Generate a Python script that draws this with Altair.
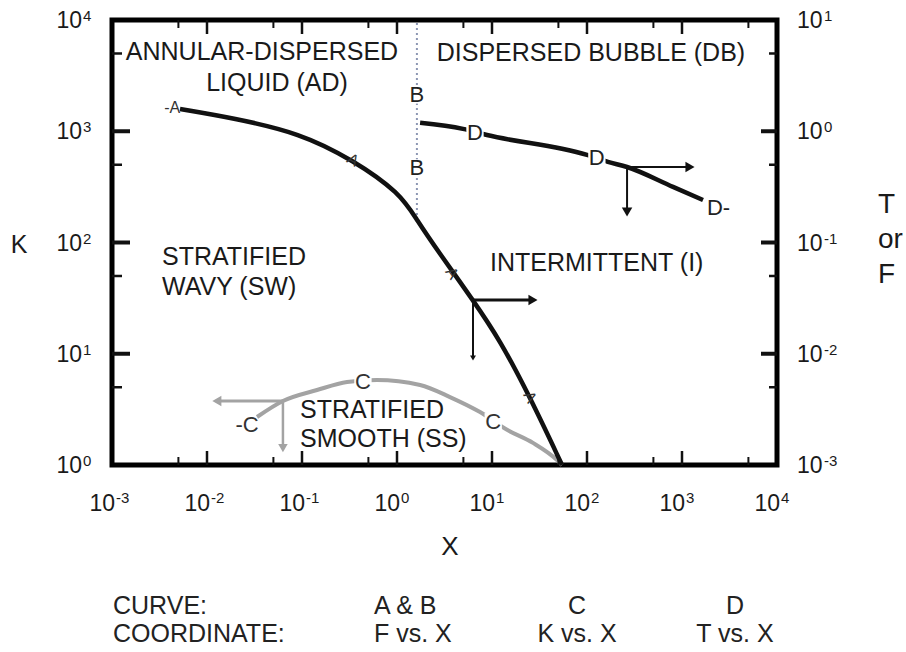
import altair as alt
import pandas as pd

FONT = "Liberation Sans"

# ---------------- data ----------------
# Curve A  (F vs. X)
a_x = [0.0052, 0.0188, 0.0953, 0.344, 1.075, 1.62, 2.64, 6.31, 12.1, 25.1, 54.6]
a_f = [1.585, 1.316, 0.964, 0.552, 0.279, 0.159, 0.0857, 0.0304, 0.0133, 0.00408, 0.001]
# Curve B  (vertical boundary, F vs. X)
b_x = [1.62, 1.62]
b_f = [0.159, 10.0]
# Curve C  (K vs. X)
c_x = [0.0336, 0.063, 0.144, 0.298, 0.615, 1.75, 3.61, 7.48, 14.4, 27.0, 48.3, 54.6]
c_k = [2.70, 3.76, 4.72, 5.57, 5.81, 5.24, 4.08, 2.99, 2.07, 1.58, 1.11, 1.0]
# Curve D  (T vs. X)
d_x = [1.75, 4.95, 8.86, 100, 166, 264, 804, 1664]
d_t = [1.19, 1.05, 0.925, 0.612, 0.530, 0.477, 0.316, 0.241]

# curve letters
a_lab_x = [0.0043, 0.344, 3.79, 25.1]
a_lab_f = [1.62, 0.552, 0.053, 0.00408]
a_lab_t = ["-A", "A", "A", "A"]
a_lab_angle = [0, 30, 55, 62]
b_lab_x = [1.62, 1.62]
b_lab_f = [2.12, 0.468]
d_lab_x = [6.62, 127, 2223]
d_lab_t = [0.97, 0.57, 0.204]
d_lab_text = ["D", "D", "D-"]
c_lab_x = [0.0264, 0.438, 10.3]
c_lab_k = [2.29, 5.6, 2.45]
c_lab_text = ["-C", "C", "C"]

# arrows: junction -> horizontal tip, junction -> vertical tip
a_arrow_x = [6.31, 27.0]          # horizontal, F = 0.0304
a_arrow_f = [0.0304, 0.00916]     # vertical, X = 6.31
d_arrow_x = [264, 1214]           # horizontal, T = 0.477
d_arrow_t = [0.477, 0.188]        # vertical, X = 264
c_arrow_x = [0.063, 0.0127]       # horizontal, K = 3.76
c_arrow_k = [3.76, 1.42]          # vertical, X = 0.063

# region names
reg_center_text = ["ANNULAR-DISPERSED", "LIQUID (AD)", "DISPERSED BUBBLE (DB)"]
reg_center_x = [0.0379, 0.0546, 110]
reg_center_k = [5150, 2716, 5100]
reg_left_text = ["STRATIFIED", "WAVY (SW)", "INTERMITTENT (I)", "STRATIFIED", "SMOOTH (SS)"]
reg_left_x = [0.00336, 0.00336, 9.53, 0.0953, 0.0953]
reg_left_k = [74.1, 39.8, 65.5, 3.12, 1.71]

# axes
x_ticks = [1e-3, 1e-2, 1e-1, 1, 10, 100, 1000, 10000]
x_exp = ["-3", "-2", "-1", "0", "1", "2", "3", "4"]
k_ticks = [1, 10, 100, 1000, 10000]
k_exp = ["0", "1", "2", "3", "4"]
f_ticks = [1e-3, 1e-2, 1e-1, 1, 10]
f_exp = ["-3", "-2", "-1", "0", "1"]
x_major_inner = [1e-2, 1e-1, 1, 10, 100, 1000]
x_minor_inner = [5e-3, 5e-2, 5e-1, 5, 50, 500, 5000]
k_major_inner = [10, 100, 1000]
k_minor_inner = [5, 50, 500, 5000]
f_major_inner = [1e-2, 1e-1, 1]
f_minor_inner = [5e-3, 5e-2, 5e-1, 5]

caption_curve = ["CURVE:", "A & B", "C", "D"]
caption_coord = ["COORDINATE:", "F vs. X", "K vs. X", "T vs. X"]

# ---------------- layout ----------------
W, H = 665, 445
XS = alt.Scale(type="log", domain=[1e-3, 1e4], nice=False)
KS = alt.Scale(type="log", domain=[1, 1e4], nice=False)
FS = alt.Scale(type="log", domain=[1e-3, 10], nice=False)
BLACK = "#111111"
GREY = "#a3a3a3"
TXT = "#1a1a1a"


def xe():
    return alt.X("x:Q", scale=XS, axis=None)


def ke():
    return alt.Y("y:Q", scale=KS, axis=None)


def fe():
    return alt.Y("y:Q", scale=FS, axis=None)


one = pd.DataFrame({"v": [0]})


def fixed_text(txt, x, y, size, align="left", color=TXT):
    return alt.Chart(one).mark_text(font=FONT, fontSize=size, color=color, align=align,
                                    baseline="alphabetic").encode(
        x=alt.value(x), y=alt.value(y), text=alt.value(txt))


# ---------- left group (K scale) ----------
c_df = pd.DataFrame({"x": c_x, "y": c_k})
c_line = alt.Chart(c_df).mark_line(color=GREY, strokeWidth=4, interpolate="monotone").encode(
    x=xe(), y=ke())

c_h = pd.DataFrame({"x": c_arrow_x, "y": [c_arrow_k[0]] * 2})
c_v = pd.DataFrame({"x": [c_arrow_x[0]] * 2, "y": c_arrow_k})
c_arrows = (alt.Chart(c_h).mark_line(color=GREY, strokeWidth=3).encode(x=xe(), y=ke())
            + alt.Chart(c_v).mark_line(color=GREY, strokeWidth=2.5).encode(x=xe(), y=ke()))
c_heads = (alt.Chart(pd.DataFrame({"x": [c_arrow_x[1]], "y": [c_arrow_k[0]]}))
           .mark_point(shape="triangle-left", filled=True, color=GREY, size=110, opacity=1)
           .encode(x=xe(), y=ke())
           + alt.Chart(pd.DataFrame({"x": [c_arrow_x[0]], "y": [c_arrow_k[1]]}))
           .mark_point(shape="triangle-down", filled=True, color=GREY, size=90, opacity=1)
           .encode(x=xe(), y=ke()))

c_lab_df = pd.DataFrame({"x": c_lab_x, "y": c_lab_k, "t": c_lab_text})
c_bg = alt.Chart(c_lab_df.iloc[1:]).mark_square(color="white", size=300, opacity=1).encode(
    x=xe(), y=ke())
c_labs = alt.Chart(c_lab_df).mark_text(font=FONT, fontSize=22, color="#333",
                                       baseline="middle").encode(x=xe(), y=ke(), text="t:N")

regc = alt.Chart(pd.DataFrame({"x": reg_center_x, "y": reg_center_k, "t": reg_center_text})
                 ).mark_text(font=FONT, fontSize=25, color=TXT, baseline="middle",
                             align="center").encode(x=xe(), y=ke(), text="t:N")
regl = alt.Chart(pd.DataFrame({"x": reg_left_x, "y": reg_left_k, "t": reg_left_text})
                 ).mark_text(font=FONT, fontSize=25, color=TXT, baseline="middle",
                             align="left").encode(x=xe(), y=ke(), text="t:N")


def vticks(vals, length, width, top):
    df = pd.DataFrame({"x": vals})
    y0 = 0 if top else H
    y1 = length if top else H - length
    return alt.Chart(df).mark_rule(color=BLACK, strokeWidth=width).encode(
        x=xe(), y=alt.value(y0), y2=alt.value(y1))


def hticks(vals, length, width, scale_enc, left):
    df = pd.DataFrame({"y": vals})
    x0 = 0 if left else W
    x1 = length if left else W - length
    return alt.Chart(df).mark_rule(color=BLACK, strokeWidth=width).encode(
        y=scale_enc(), x=alt.value(x0), x2=alt.value(x1))


ticks_left = (vticks(x_major_inner, 14, 2.5, True) + vticks(x_minor_inner, 8, 2, True)
              + vticks(x_major_inner, 14, 2.5, False) + vticks(x_minor_inner, 8, 2, False)
              + hticks(k_major_inner, 18, 4, ke, True) + hticks(k_minor_inner, 10, 2.5, ke, True))

# tick labels: "10" plus a raised exponent
xl_df = pd.DataFrame({"x": x_ticks, "e": x_exp})
x_labels = (alt.Chart(xl_df).mark_text(font=FONT, fontSize=23, color=TXT, align="right",
                                       baseline="alphabetic", dx=3)
            .encode(x=xe(), y=alt.value(H + 46), text=alt.value("10"))
            + alt.Chart(xl_df).mark_text(font=FONT, fontSize=15, color=TXT, align="left",
                                         baseline="alphabetic", dx=4)
            .encode(x=xe(), y=alt.value(H + 38), text="e:N"))
kl_df = pd.DataFrame({"y": k_ticks, "e": k_exp})
k_labels = (alt.Chart(kl_df).mark_text(font=FONT, fontSize=23, color=TXT, align="right",
                                       baseline="alphabetic", dy=8)
            .encode(y=ke(), x=alt.value(-30), text=alt.value("10"))
            + alt.Chart(kl_df).mark_text(font=FONT, fontSize=15, color=TXT, align="left",
                                         baseline="alphabetic", dy=1)
            .encode(y=ke(), x=alt.value(-29), text="e:N"))

titles_left = [
    fixed_text("K", -93, 233, 25, "center"),
    fixed_text("X", 338, 535, 26, "center"),
]

caption_x = [1, 262, 465, 623]
caption_align = ["left", "left", "center", "center"]
captions = []
for i in range(4):
    captions.append(fixed_text(caption_curve[i], caption_x[i], 594, 25, caption_align[i], "#222"))
    captions.append(fixed_text(caption_coord[i], caption_x[i], 622, 25, caption_align[i], "#222"))

left_group = alt.layer(c_line, c_arrows, c_heads, c_bg, c_labs, regc, regl, ticks_left,
                       x_labels, k_labels, *titles_left, *captions)

# ---------- right group (F / T scale) ----------
a_df = pd.DataFrame({"x": a_x, "y": a_f})
a_line = alt.Chart(a_df).mark_line(color=BLACK, strokeWidth=4.5, interpolate="basis").encode(
    x=xe(), y=fe())
b_df = pd.DataFrame({"x": b_x, "y": b_f})
b_line = alt.Chart(b_df).mark_line(color="#8d97b3", strokeWidth=2, strokeDash=[2, 3]).encode(
    x=xe(), y=fe())
d_df = pd.DataFrame({"x": d_x, "y": d_t})
d_line = alt.Chart(d_df).mark_line(color=BLACK, strokeWidth=4.5, interpolate="monotone").encode(
    x=xe(), y=fe())

a_h = pd.DataFrame({"x": a_arrow_x, "y": [a_arrow_f[0]] * 2})
a_v = pd.DataFrame({"x": [a_arrow_x[0]] * 2, "y": a_arrow_f})
d_h = pd.DataFrame({"x": d_arrow_x, "y": [d_arrow_t[0]] * 2})
d_v = pd.DataFrame({"x": [d_arrow_x[0]] * 2, "y": d_arrow_t})
arrows = (alt.Chart(a_h).mark_line(color=BLACK, strokeWidth=3).encode(x=xe(), y=fe())
          + alt.Chart(a_v).mark_line(color=BLACK, strokeWidth=2).encode(x=xe(), y=fe())
          + alt.Chart(d_h).mark_line(color=BLACK, strokeWidth=2).encode(x=xe(), y=fe())
          + alt.Chart(d_v).mark_line(color=BLACK, strokeWidth=2).encode(x=xe(), y=fe()))
heads = (alt.Chart(pd.DataFrame({"x": [a_arrow_x[1]], "y": [a_arrow_f[0]]}))
         .mark_point(shape="triangle-right", filled=True, color=BLACK, size=110, opacity=1)
         .encode(x=xe(), y=fe())
         + alt.Chart(pd.DataFrame({"x": [a_arrow_x[0]], "y": [a_arrow_f[1]]}))
         .mark_point(shape="triangle-down", filled=True, color=BLACK, size=35, opacity=1)
         .encode(x=xe(), y=fe())
         + alt.Chart(pd.DataFrame({"x": [d_arrow_x[1]], "y": [d_arrow_t[0]]}))
         .mark_point(shape="triangle-right", filled=True, color=BLACK, size=110, opacity=1)
         .encode(x=xe(), y=fe())
         + alt.Chart(pd.DataFrame({"x": [d_arrow_x[0]], "y": [d_arrow_t[1]]}))
         .mark_point(shape="triangle-down", filled=True, color=BLACK, size=110, opacity=1)
         .encode(x=xe(), y=fe()))

a_lab_df = pd.DataFrame({"x": a_lab_x, "y": a_lab_f, "t": a_lab_t})
a_labs = alt.layer(*[
    alt.Chart(a_lab_df.iloc[[i]]).mark_text(font=FONT, fontSize=16, color="#333",
                                            baseline="middle", angle=a_lab_angle[i]
                                            ).encode(x=xe(), y=fe(), text="t:N")
    for i in range(len(a_lab_x))])
b_lab_df = pd.DataFrame({"x": b_lab_x, "y": b_lab_f, "t": ["B", "B"]})
d_lab_df = pd.DataFrame({"x": d_lab_x, "y": d_lab_t, "t": d_lab_text})
bd_bg = (alt.Chart(b_lab_df).mark_square(color="white", size=300, opacity=1).encode(x=xe(), y=fe())
         + alt.Chart(d_lab_df.iloc[:2]).mark_square(color="white", size=300, opacity=1)
         .encode(x=xe(), y=fe()))
bd_labs = (alt.Chart(b_lab_df).mark_text(font=FONT, fontSize=22, color="#222", baseline="middle")
           .encode(x=xe(), y=fe(), text="t:N")
           + alt.Chart(d_lab_df).mark_text(font=FONT, fontSize=22, color="#222",
                                           baseline="middle", align="left", dx=-8)
           .encode(x=xe(), y=fe(), text="t:N"))

ticks_right = hticks(f_major_inner, 16, 4, fe, False) + hticks(f_minor_inner, 8, 2.5, fe, False)

fl_df = pd.DataFrame({"y": f_ticks, "e": f_exp})
f_labels = (alt.Chart(fl_df).mark_text(font=FONT, fontSize=23, color=TXT, align="left",
                                       baseline="alphabetic", dy=8)
            .encode(y=fe(), x=alt.value(W + 20), text=alt.value("10"))
            + alt.Chart(fl_df).mark_text(font=FONT, fontSize=15, color=TXT, align="left",
                                         baseline="alphabetic", dy=1)
            .encode(y=fe(), x=alt.value(W + 47), text="e:N"))

titles_right = [
    fixed_text("T", W + 101, 193, 28),
    fixed_text("or", W + 101, 228, 28),
    fixed_text("F", W + 101, 263, 28),
]

right_group = alt.layer(b_line, a_line, d_line, arrows, heads, bd_bg, a_labs, bd_labs,
                        ticks_right, f_labels, *titles_right)

chart = alt.layer(left_group, right_group).resolve_scale(y="independent").properties(
    width=W, height=H,
    autosize=alt.AutoSizeParams(type="none"),
    padding={"left": 112, "top": 20, "right": 906 - 112 - W, "bottom": 652 - 20 - H},
    background="white",
).configure_view(stroke="black", strokeWidth=5)

chart.save("out.html", embed_options={"renderer": "svg", "actions": False})
